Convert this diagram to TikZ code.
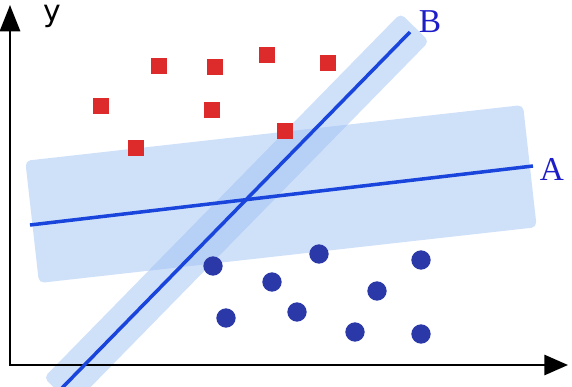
\documentclass[tikz,border=0pt]{standalone}
\usepackage{fontspec}
\setmainfont{Liberation Serif}
\newfontfamily\axisfont{DejaVu Sans}
\usetikzlibrary{arrows.meta}

\definecolor{bandblue}{RGB}{151,188,242}
\definecolor{lineblue}{RGB}{26,69,220}
\definecolor{dotblue}{RGB}{43,56,168}
\definecolor{squarered}{RGB}{221,42,42}
\definecolor{labelblue}{RGB}{30,30,200}

\begin{document}
\begin{tikzpicture}[
    x=0.02cm, y=-0.02cm,
    band/.style={rectangle, rounded corners=3pt, fill=bandblue, fill opacity=0.46, inner sep=0pt},
    sep/.style={draw=lineblue, line width=2pt},
    axis/.style={line width=1.4pt, {Triangle[length=15pt, width=11.5pt]}-{Triangle[length=13.5pt, width=11.5pt]}},
    redpt/.style={rectangle, fill=squarered, minimum size=9.6pt, inner sep=0pt},
    bluept/.style={circle, fill=dotblue, minimum size=11pt, inner sep=0pt},
    lbl/.style={text=labelblue, font=\fontsize{19}{19}\selectfont, inner sep=0pt}
]
\useasboundingbox (0,0) rectangle (572,386);

% margins
\node[band, minimum width=10.02cm, minimum height=2.46cm, rotate=6.4] (bandA) at (281,194) {};
\node[band, minimum width=10.2cm, minimum height=0.8cm, rotate=45.6] (bandB) at (236.5,209.5) {};

% axes
\coordinate (ytip) at (10,5);
\coordinate (origin) at (10,365);
\coordinate (xtip) at (568,365);
\draw[axis] (ytip) -- (origin) -- (xtip);
\node[font=\axisfont\fontsize{17}{17}\selectfont, anchor=base, inner sep=0pt] (ylabel) at (52,21) {y};

% separating lines
\coordinate (a1) at (30,225);
\coordinate (a2) at (533,166);
\coordinate (b1) at (62,388);
\coordinate (b2) at (410,32);
\draw[sep] (a1) -- (a2);
\draw[sep] (b1) -- (b2);
\node[lbl] (labA) at (552,169) {A};
\node[lbl] (labB) at (430,21.5) {B};

% classes
\foreach \x/\y [count=\i] in {159/66, 215/67, 267/55, 328/63, 101/106, 212/110, 285/131, 136/148}
  \node[redpt] (r\i) at (\x,\y) {};
\foreach \x/\y [count=\i] in {213/266, 319/254, 421/260, 272/282, 377/291, 226/318, 297/312, 355/332, 421/334}
  \node[bluept] (c\i) at (\x,\y) {};

\end{tikzpicture}
\end{document}
